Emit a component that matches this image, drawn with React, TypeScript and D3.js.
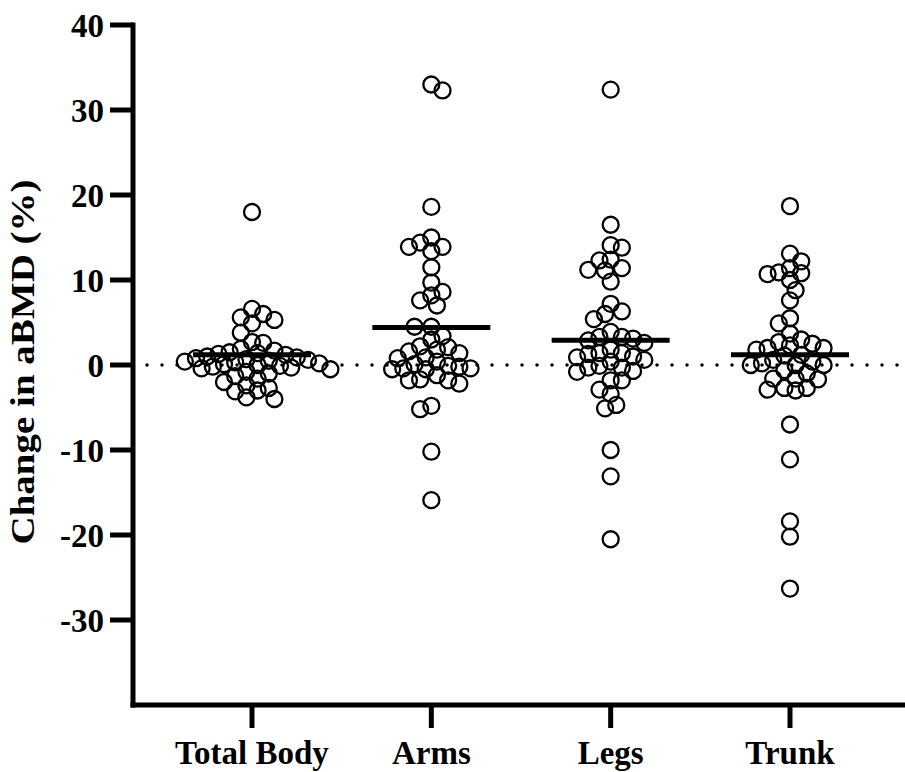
import React from 'react';
import * as d3 from 'd3';

const categories = ['Total Body', 'Arms', 'Legs', 'Trunk'];
const totalBody = [18.0, 6.6, 6.0, 5.6, 5.3, 4.9, 3.8, 2.7, 2.6, 1.9, 1.7, 1.5, 1.4, 1.3, 1.2, 1.0, 0.9, 0.8, 0.7, 0.6, 0.5, 0.4, 0.3, 0.2, 0.1, 0.0, -0.1, -0.2, -0.3, -0.4, -0.5, -0.8, -1.0, -1.3, -1.6, -2.0, -2.4, -2.7, -3.0, -3.1, -3.8, -4.0];
const arms = [33.0, 32.3, 18.6, 15.0, 14.4, 13.9, 13.9, 13.4, 11.5, 9.7, 8.6, 8.2, 7.6, 7.0, 4.5, 4.5, 3.4, 3.0, 2.2, 2.1, 1.8, 1.6, 1.4, 0.9, 0.8, 0.4, 0.1, -0.1, -0.2, -0.4, -0.4, -0.5, -0.5, -1.2, -1.7, -1.8, -1.8, -2.2, -4.8, -5.2, -10.2, -15.9];
const legs = [32.4, 16.5, 14.1, 13.8, 12.4, 12.3, 11.4, 11.2, 11.1, 9.8, 7.2, 6.3, 6.0, 5.4, 3.9, 3.3, 3.3, 3.1, 2.9, 2.6, 1.8, 1.4, 1.4, 1.3, 1.0, 0.9, 0.6, 0.4, -0.1, -0.3, -0.3, -0.7, -0.8, -1.8, -1.8, -2.9, -3.4, -4.7, -5.1, -10.0, -13.1, -20.5];
const trunk = [18.7, 13.1, 12.2, 11.4, 10.9, 10.8, 10.7, 10.0, 8.8, 7.6, 5.5, 4.9, 3.7, 3.0, 2.7, 2.5, 2.3, 2.0, 2.0, 1.8, 1.2, 1.1, 0.6, 0.4, 0.2, 0.0, 0.0, 0.0, -0.6, -1.0, -1.6, -1.6, -1.7, -2.7, -2.7, -2.9, -3.0, -7.0, -11.1, -18.4, -20.2, -26.3];
const seriesValues = [totalBody, arms, legs, trunk];
const means = [1.2, 4.4, 2.9, 1.2];
const yTicks = [-30, -20, -10, 0, 10, 20, 30, 40];
const yLabel = 'Change in aBMD (%)';

const W = 905;
const H = 772;
const FONT = '"Liberation Serif", "Times New Roman", serif';

type Pt = { x: number; y: number; v: number };

function swarm(values: number[], cx: number, y: (v: number) => number, d: number, step: number): Pt[] {
  const placed: Pt[] = [];
  const sorted = [...values].sort((a, b) => b - a);
  let flip = 1;
  for (const v of sorted) {
    const py = y(v);
    let px: number | null = null;
    for (let k = 0; k < 60 && px === null; k++) {
      const cands = k === 0 ? [0] : [flip * k * step, -flip * k * step];
      for (const off of cands) {
        const cand = cx + off;
        if (placed.every((p) => Math.hypot(p.x - cand, p.y - py) >= d)) {
          px = cand;
          if (off !== 0) flip = -Math.sign(off);
          break;
        }
      }
    }
    placed.push({ x: px as number, y: py, v });
  }
  return placed;
}

export default function App() {
  const y = d3.scaleLinear().domain([-40, 40]).range([705, 25]);
  const x = d3.scalePoint<string>().domain(categories).range([252, 790]);
  const axisX = 133;
  const axisY = y(-40);

  return (
    <svg width={W} height={H} style={{ position: 'absolute', left: 0, top: 0, background: '#fff' }}>
      <rect x={0} y={0} width={W} height={H} fill="#fff" />
      <line x1={147} x2={W} y1={y(0)} y2={y(0)} stroke="#000" strokeWidth={3.5} strokeLinecap="round" strokeDasharray="0 15" />
      {categories.map((c, i) => {
        const pts = swarm(seriesValues[i], x(c) as number, y, 11.2, 5.6);
        return (
          <g key={c}>
            {pts.map((p, j) => (
              <circle key={j} cx={p.x} cy={p.y} r={8} fill="none" stroke="#000" strokeWidth={2.3} />
            ))}
            <line x1={(x(c) as number) - 59} x2={(x(c) as number) + 59} y1={y(means[i])} y2={y(means[i])} stroke="#000" strokeWidth={5} />
          </g>
        );
      })}
      <line x1={axisX} x2={axisX} y1={y(40) - 2.5} y2={axisY + 2.5} stroke="#000" strokeWidth={5} />
      {yTicks.map((t) => (
        <g key={t}>
          <line x1={110} x2={axisX} y1={y(t)} y2={y(t)} stroke="#000" strokeWidth={5} />
          <text x={104} y={y(t)} dy="0.35em" textAnchor="end" fontFamily={FONT} fontWeight="bold" fontSize={33}>
            {t}
          </text>
        </g>
      ))}
      <line x1={axisX - 2.5} x2={W} y1={axisY} y2={axisY} stroke="#000" strokeWidth={5} />
      {categories.map((c) => (
        <g key={c}>
          <line x1={x(c) as number} x2={x(c) as number} y1={axisY} y2={axisY + 23} stroke="#000" strokeWidth={5} />
          <text x={x(c) as number} y={764} textAnchor="middle" fontFamily={FONT} fontWeight="bold" fontSize={33}>
            {c}
          </text>
        </g>
      ))}
      <text
        transform={`translate(34, 362) rotate(-90)`}
        textAnchor="middle"
        fontFamily={FONT}
        fontWeight="bold"
        fontSize={33}
        textLength={365}
        lengthAdjust="spacingAndGlyphs"
      >
        {yLabel}
      </text>
    </svg>
  );
}
